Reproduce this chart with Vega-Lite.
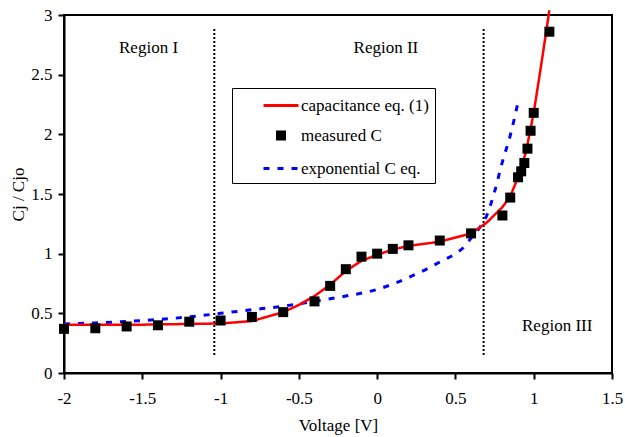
{
  "$schema": "https://vega.github.io/schema/vega-lite/v6.json",
  "width": 548,
  "height": 358,
  "autosize": {"type": "none"},
  "padding": {"left": 64, "top": 15, "right": 13, "bottom": 64},
  "background": "white",
  "config": {
    "font": "Liberation Serif",
    "view": {"stroke": "black", "strokeWidth": 2},
    "axis": {
      "labelFont": "Liberation Serif", "titleFont": "Liberation Serif",
      "labelFontSize": 17, "titleFontSize": 17,
      "labelColor": "black", "titleColor": "black", "titleFontWeight": "normal",
      "domainColor": "black", "domainWidth": 2,
      "tickColor": "black", "tickWidth": 2, "tickSize": 6, "grid": false,
      "labelFlush": false
    },
    "legend": {
      "labelFont": "Liberation Serif", "labelFontSize": 17, "labelColor": "black",
      "orient": "none", "legendX": 168, "legendY": 73,
      "strokeColor": "black", "fillColor": "white", "padding": 6,
      "symbolSize": 400, "symbolStrokeWidth": 3, "rowPadding": 10, "labelOffset": 8.5, "symbolOffset": 31.5,
      "symbolOpacity": 1
    }
  },
  "datasets": {
    "curves": [
      {"series": "capacitance eq. (1)", "v": -2.0, "c": 0.405},
      {"series": "capacitance eq. (1)", "v": -1.5, "c": 0.405},
      {"series": "capacitance eq. (1)", "v": -1.0, "c": 0.415},
      {"series": "capacitance eq. (1)", "v": -0.8, "c": 0.435},
      {"series": "capacitance eq. (1)", "v": -0.6, "c": 0.51},
      {"series": "capacitance eq. (1)", "v": -0.5, "c": 0.57},
      {"series": "capacitance eq. (1)", "v": -0.4, "c": 0.645},
      {"series": "capacitance eq. (1)", "v": -0.3, "c": 0.74},
      {"series": "capacitance eq. (1)", "v": -0.2, "c": 0.855},
      {"series": "capacitance eq. (1)", "v": -0.1, "c": 0.94},
      {"series": "capacitance eq. (1)", "v": 0.0, "c": 0.99},
      {"series": "capacitance eq. (1)", "v": 0.1, "c": 1.035},
      {"series": "capacitance eq. (1)", "v": 0.2, "c": 1.065},
      {"series": "capacitance eq. (1)", "v": 0.4, "c": 1.10},
      {"series": "capacitance eq. (1)", "v": 0.6, "c": 1.17},
      {"series": "capacitance eq. (1)", "v": 0.7, "c": 1.26},
      {"series": "capacitance eq. (1)", "v": 0.8, "c": 1.39},
      {"series": "capacitance eq. (1)", "v": 0.85, "c": 1.48},
      {"series": "capacitance eq. (1)", "v": 0.9, "c": 1.64},
      {"series": "capacitance eq. (1)", "v": 0.95, "c": 1.85},
      {"series": "capacitance eq. (1)", "v": 1.0, "c": 2.18},
      {"series": "capacitance eq. (1)", "v": 1.05, "c": 2.6},
      {"series": "capacitance eq. (1)", "v": 1.1, "c": 3.04},
      {"series": "exponential C eq.", "v": -2.0, "c": 0.41},
      {"series": "exponential C eq.", "v": -1.8, "c": 0.42},
      {"series": "exponential C eq.", "v": -1.5, "c": 0.44},
      {"series": "exponential C eq.", "v": -1.2, "c": 0.47},
      {"series": "exponential C eq.", "v": -1.0, "c": 0.50},
      {"series": "exponential C eq.", "v": -0.8, "c": 0.53},
      {"series": "exponential C eq.", "v": -0.6, "c": 0.56},
      {"series": "exponential C eq.", "v": -0.4, "c": 0.60},
      {"series": "exponential C eq.", "v": -0.2, "c": 0.645},
      {"series": "exponential C eq.", "v": 0.0, "c": 0.70},
      {"series": "exponential C eq.", "v": 0.1, "c": 0.745},
      {"series": "exponential C eq.", "v": 0.2, "c": 0.80},
      {"series": "exponential C eq.", "v": 0.3, "c": 0.86},
      {"series": "exponential C eq.", "v": 0.4, "c": 0.93},
      {"series": "exponential C eq.", "v": 0.5, "c": 1.0},
      {"series": "exponential C eq.", "v": 0.55, "c": 1.05},
      {"series": "exponential C eq.", "v": 0.6, "c": 1.13},
      {"series": "exponential C eq.", "v": 0.65, "c": 1.21},
      {"series": "exponential C eq.", "v": 0.7, "c": 1.32},
      {"series": "exponential C eq.", "v": 0.75, "c": 1.52},
      {"series": "exponential C eq.", "v": 0.8, "c": 1.77},
      {"series": "exponential C eq.", "v": 0.85, "c": 1.99},
      {"series": "exponential C eq.", "v": 0.9, "c": 2.27}
    ],
    "measured": [
      {"series": "measured C", "v": -2.0, "c": 0.37},
      {"series": "measured C", "v": -1.8, "c": 0.375},
      {"series": "measured C", "v": -1.6, "c": 0.39},
      {"series": "measured C", "v": -1.4, "c": 0.40},
      {"series": "measured C", "v": -1.2, "c": 0.43},
      {"series": "measured C", "v": -1.0, "c": 0.44},
      {"series": "measured C", "v": -0.8, "c": 0.47},
      {"series": "measured C", "v": -0.6, "c": 0.51},
      {"series": "measured C", "v": -0.4, "c": 0.60},
      {"series": "measured C", "v": -0.3, "c": 0.73},
      {"series": "measured C", "v": -0.2, "c": 0.87},
      {"series": "measured C", "v": -0.1, "c": 0.975},
      {"series": "measured C", "v": 0.0, "c": 1.0},
      {"series": "measured C", "v": 0.1, "c": 1.04},
      {"series": "measured C", "v": 0.2, "c": 1.07},
      {"series": "measured C", "v": 0.4, "c": 1.11},
      {"series": "measured C", "v": 0.6, "c": 1.17},
      {"series": "measured C", "v": 0.8, "c": 1.32},
      {"series": "measured C", "v": 0.85, "c": 1.47},
      {"series": "measured C", "v": 0.9, "c": 1.64},
      {"series": "measured C", "v": 0.92, "c": 1.69},
      {"series": "measured C", "v": 0.94, "c": 1.76},
      {"series": "measured C", "v": 0.96, "c": 1.88},
      {"series": "measured C", "v": 0.98, "c": 2.03},
      {"series": "measured C", "v": 1.0, "c": 2.18},
      {"series": "measured C", "v": 1.1, "c": 2.86}
    ],
    "bounds": [
      {"v": -1.04, "y1": 0.15, "y2": 2.89},
      {"v": 0.68, "y1": 0.15, "y2": 2.89}
    ],
    "labels": [
      {"v": -1.46, "c": 2.725, "text": "Region I"},
      {"v": 0.056, "c": 2.725, "text": "Region II"},
      {"v": 1.15, "c": 0.39, "text": "Region III"}
    ]
  },
  "layer": [
    {
      "data": {"name": "bounds"},
      "mark": {"type": "rule", "color": "black", "strokeWidth": 2, "strokeDash": [2, 2]},
      "encoding": {
        "x": {
          "field": "v", "type": "quantitative", "scale": {"domain": [-2, 1.5]},
          "title": "Voltage [V]",
          "axis": {"values": [-2, -1.5, -1, -0.5, 0, 0.5, 1, 1.5], "labelExpr": "'' + datum.value", "labelPadding": 11, "titlePadding": 11}
        },
        "y": {
          "field": "y1", "type": "quantitative", "scale": {"domain": [0, 3]},
          "title": "Cj / Cjo",
          "axis": {"values": [0, 0.5, 1, 1.5, 2, 2.5, 3], "labelExpr": "'' + datum.value", "labelPadding": 6, "titlePadding": 3}
        },
        "y2": {"field": "y2"}
      }
    },
    {
      "data": {"name": "curves"},
      "transform": [{"filter": "datum.series === 'exponential C eq.'"}],
      "mark": {"type": "line", "strokeWidth": 3, "interpolate": "monotone"},
      "encoding": {
        "x": {"field": "v", "type": "quantitative"},
        "y": {"field": "c", "type": "quantitative"},
        "stroke": {
          "field": "series", "type": "nominal", "title": null,
          "scale": {"domain": ["capacitance eq. (1)", "measured C", "exponential C eq."], "range": ["#ff0000", "transparent", "#0000ff"]}
        },
        "strokeDash": {
          "field": "series", "type": "nominal", "title": null,
          "scale": {"domain": ["capacitance eq. (1)", "measured C", "exponential C eq."], "range": [[1, 0], [1, 0], [6, 8]]}
        }
      }
    },
    {
      "data": {"name": "curves"},
      "transform": [{"filter": "datum.series === 'capacitance eq. (1)'"}],
      "mark": {"type": "line", "strokeWidth": 2.5},
      "encoding": {
        "x": {"field": "v", "type": "quantitative"},
        "y": {"field": "c", "type": "quantitative"},
        "stroke": {"field": "series", "type": "nominal", "title": null},
        "strokeDash": {"field": "series", "type": "nominal", "title": null}
      }
    },
    {
      "data": {"name": "measured"},
      "mark": {"type": "point", "filled": true, "opacity": 1, "size": 400},
      "encoding": {
        "x": {"field": "v", "type": "quantitative"},
        "y": {"field": "c", "type": "quantitative"},
        "fill": {
          "field": "series", "type": "nominal", "title": null,
          "scale": {"domain": ["capacitance eq. (1)", "measured C", "exponential C eq."], "range": ["transparent", "#000000", "transparent"]}
        },
        "shape": {
          "field": "series", "type": "nominal", "title": null,
          "scale": {"domain": ["capacitance eq. (1)", "measured C", "exponential C eq."], "range": ["M-1.75,0H1.75", "M-0.5,-0.5H0.5V0.5H-0.5Z", "M-1.75,0H1.75"]}
        }
      }
    },
    {
      "data": {"name": "labels"},
      "mark": {"type": "text", "font": "Liberation Serif", "fontSize": 17, "color": "black", "align": "center", "baseline": "middle"},
      "encoding": {
        "x": {"field": "v", "type": "quantitative"},
        "y": {"field": "c", "type": "quantitative"},
        "text": {"field": "text"}
      }
    }
  ]
}
